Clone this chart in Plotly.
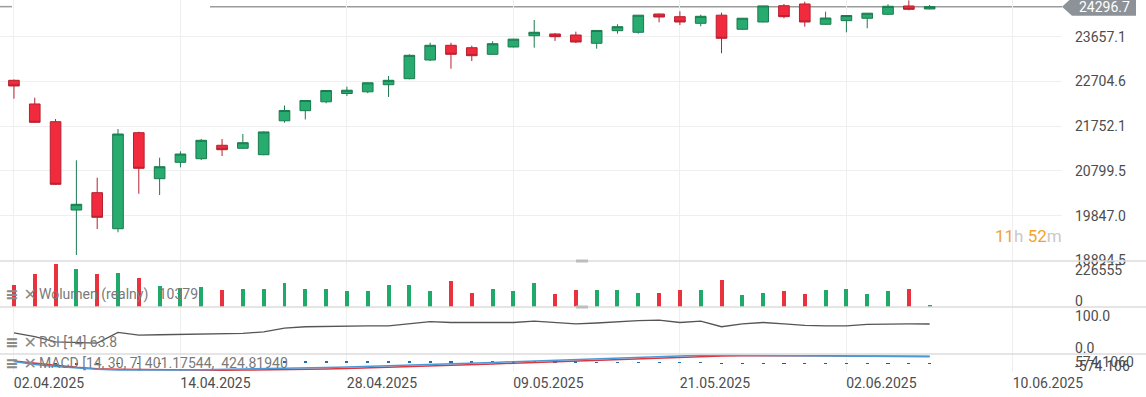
import plotly.graph_objects as go
from plotly.subplots import make_subplots

# ---------------- data ----------------
DAYS = ["02.04", "03.04", "04.04", "07.04", "08.04", "09.04", "10.04", "11.04", "14.04", "15.04",
        "16.04", "17.04", "22.04", "23.04", "24.04", "25.04", "28.04", "29.04", "30.04", "02.05",
        "05.05", "06.05", "07.05", "08.05", "09.05", "12.05", "13.05", "14.05", "15.05", "16.05",
        "19.05", "20.05", "21.05", "22.05", "23.05", "26.05", "27.05", "28.05", "29.05", "30.05",
        "02.06", "03.06", "04.06", "05.06", "06.06"]

OPEN = [22729, 22225, 21848, 19968, 20337, 19570, 21614, 20635, 20984, 21060,
        21346, 21282, 21145, 21867, 22082, 22271, 22448, 22484, 22635, 22763,
        23161, 23474, 23423, 23282, 23438, 23678, 23715, 23693, 23517, 23785,
        23751, 24140, 24083, 23942, 24115, 23815, 23970, 24317, 24353, 23921,
        23998, 24049, 24134, 24311, 24247]
HIGH = [22745, 22359, 21905, 21026, 20656, 21692, 21635, 21082, 21218, 21480,
        21480, 21586, 21640, 22193, 22310, 22523, 22593, 22680, 22820, 23282,
        23529, 23529, 23466, 23559, 23610, 24013, 23736, 23764, 23795, 23921,
        24119, 24147, 24198, 24125, 24168, 24055, 24317, 24353, 24402, 24189,
        24113, 24162, 24347, 24430, 24332]
LOW = [22337, 21820, 20500, 19011, 19564, 19494, 20315, 20288, 20877, 21033,
       21118, 21270, 21135, 21827, 21895, 22240, 22395, 22454, 22374, 22750,
       23140, 22976, 23140, 23270, 23430, 23423, 23566, 23523, 23402, 23721,
       23721, 23964, 23906, 23878, 23304, 23805, 23960, 24049, 23870, 23910,
       23751, 23836, 24124, 24219, 24240]
CLOSE = [22608, 21835, 20515, 20090, 19813, 21586, 20856, 20890, 21160, 21452,
         21252, 21401, 21630, 22086, 22299, 22512, 22518, 22676, 22729, 23261,
         23474, 23282, 23253, 23508, 23605, 23751, 23657, 23544, 23790, 23870,
         24115, 24076, 23970, 24091, 23623, 24050, 24312, 24083, 23970, 24055,
         24108, 24157, 24304, 24240, 24296.7]

VOLUME = [108000, 162000, 212000, 187000, 162000, 169000, 144000, 105000, 95000, 100000,
          84000, 89000, 89000, 120000, 89000, 89000, 79000, 79000, 108000, 108000,
          79000, 128000, 70000, 89000, 79000, 120000, 64000, 84000, 84000, 84000,
          70000, 70000, 84000, 84000, 133000, 59000, 70000, 79000, 64000, 84000,
          89000, 64000, 79000, 89000, 10379]

RSI = [45, 37, 26, 24, 23, 46, 40, 41, 42, 43,
       43, 44, 47, 55, 58, 59, 60, 60, 60, 65,
       69, 67, 67, 68, 67, 70, 67, 64, 66, 69,
       71, 72, 67, 70, 58, 64, 67, 64, 61, 60,
       60, 63, 64, 64, 63.8]

MACD = [96, -96, -223, -319, -400, -440, -450, -450, -440, -425,
        -410, -395, -375, -350, -320, -290, -255, -220, -180, -135,
        -90, -45, -5, 35, 80, 130, 180, 230, 280, 330,
        380, 430, 470, 500, 500, 490, 495, 490, 475, 455,
        440, 428, 420, 410, 401.17544]
SIGNAL = [128, -30, -150, -270, -360, -400, -420, -440, -450, -455,
          -455, -450, -440, -425, -405, -380, -350, -315, -280, -240,
          -195, -150, -105, -60, -15, 30, 80, 130, 180, 230,
          280, 325, 370, 410, 440, 455, 465, 470, 470, 462,
          452, 442, 435, 429, 424.81940]
HIST = [0, -40, -150, -150, -150, -40, -30, -10, 0, 0,
        0, 0, 0, 115, 115, 115, 115, 115, 115, 115,
        115, 115, 115, 115, 115, 110, 110, 110, 50, 50,
        50, 50, 50, 50, -20, -20, -20, -20, -20, -20,
        -20, -20, -20, -20, -20]

TICK_IDX = [0, 8, 16, 24, 32, 40, 48]
TICK_TEXT = ["02.04.2025", "14.04.2025", "28.04.2025", "09.05.2025",
             "21.05.2025", "02.06.2025", "10.06.2025"]

PRICE_TICKS = [18894.5, 19847.0, 20799.5, 21752.1, 22704.6, 23657.1]
PRICE_RANGE = [18883, 24438]
VOL_MAX = 226555
MACD_MAX = 574.106

# ---------------- styling ----------------
FONT = "Roboto"
GREEN, GREEN_LINE = "#27ab6f", "#1b7a4f"
RED, RED_LINE = "#f12b3d", "#b5202f"
VGREEN, VRED = "#1faa69", "#e8333f"
GRID = "#efefef"
SEP = "#dcdcdc"
TXT = "#4d4d4d"
LEG = "#7a7a7a"

W, H = 1146, 397
ML, MR, MT, MB = 0, 84, 0, 25
PW = W - ML - MR
PH = H - MT - MB
ROWS_PX = [261, 46, 47, 18]

n = len(OPEN)
x = list(range(n))
up = [c >= o for o, c in zip(OPEN, CLOSE)]

fig = make_subplots(rows=4, cols=1, shared_xaxes=True, vertical_spacing=0,
                    row_heights=ROWS_PX)

fig.add_trace(go.Candlestick(
    x=x, open=OPEN, high=HIGH, low=LOW, close=CLOSE,
    increasing=dict(fillcolor=GREEN, line=dict(color=GREEN_LINE, width=1)),
    decreasing=dict(fillcolor=RED, line=dict(color=RED_LINE, width=1)),
    whiskerwidth=0, showlegend=False, hoverinfo="skip"), row=1, col=1)

fig.add_trace(go.Bar(
    x=x, y=VOLUME, width=0.19,
    marker=dict(color=[VGREEN if u else VRED for u in up], line=dict(width=0)),
    showlegend=False, hoverinfo="skip"), row=2, col=1)

fig.add_trace(go.Scatter(
    x=x, y=RSI, mode="lines", line=dict(color="#555555", width=1.3),
    showlegend=False, hoverinfo="skip"), row=3, col=1)

fig.add_trace(go.Bar(
    x=x, y=HIST, width=0.15,
    marker=dict(color=["#1f6fb2" if v >= 0 else "#b3262f" for v in HIST], line=dict(width=0)),
    showlegend=False, hoverinfo="skip"), row=4, col=1)
fig.add_trace(go.Scatter(
    x=x, y=SIGNAL, mode="lines", line=dict(color="#e0353d", width=1.5),
    showlegend=False, hoverinfo="skip"), row=4, col=1)
fig.add_trace(go.Scatter(
    x=x, y=MACD, mode="lines", line=dict(color="#4a9ad8", width=1.5),
    showlegend=False, hoverinfo="skip"), row=4, col=1)

# x axes
x_range = [-0.67, 50.36]
fig.update_xaxes(range=x_range, tickvals=TICK_IDX, ticktext=TICK_TEXT,
                 showgrid=True, gridcolor=GRID, gridwidth=1, zeroline=False,
                 showline=False, ticks="", showticklabels=False,
                 rangeslider=dict(visible=False), fixedrange=True)
fig.update_xaxes(showticklabels=True, tickfont=dict(family=FONT, size=14, color=TXT),
                 ticklabelshift=35, ticklabelstandoff=1, row=4, col=1)

# y axes
common_y = dict(side="right", zeroline=False, showline=False, ticks="",
                tickfont=dict(family=FONT, size=14, color=TXT),
                ticklabelstandoff=12, fixedrange=True)
fig.update_yaxes(range=PRICE_RANGE, tickvals=PRICE_TICKS,
                 ticktext=[f"{v:.1f}" for v in PRICE_TICKS],
                 showgrid=True, gridcolor=GRID, row=1, col=1, **common_y)

v_px = ROWS_PX[1]
fig.update_yaxes(range=[0, VOL_MAX],
                 tickvals=[VOL_MAX * (1 - 9 / v_px), VOL_MAX * (6 / v_px)],
                 ticktext=[str(VOL_MAX), "0"], showgrid=False, row=2, col=1, **common_y)
r_px = ROWS_PX[2]
fig.update_yaxes(range=[0, 100],
                 tickvals=[100 * (1 - 9.5 / r_px), 100 * (6 / r_px)],
                 ticktext=["100.0", "0.0"], showgrid=False, row=3, col=1, **common_y)
m_px = ROWS_PX[3]
fig.update_yaxes(range=[-MACD_MAX, MACD_MAX],
                 tickvals=[MACD_MAX * (1 / (m_px / 2)), -MACD_MAX * (3.5 / (m_px / 2))],
                 ticktext=[f"{MACD_MAX:.4f}", f"-{MACD_MAX:.3f}"],
                 showgrid=False, row=4, col=1, **common_y)

shapes = []
# panel separators across full width
dom = [fig.layout.yaxis.domain, fig.layout.yaxis2.domain, fig.layout.yaxis3.domain]
for d in dom:
    shapes.append(dict(type="line", xref="paper", yref="paper", x0=0, x1=W / PW,
                       y0=d[0], y1=d[0], line=dict(color=SEP, width=1.5), layer="above"))
# panel handles
for d in dom[:2]:
    shapes.append(dict(type="line", xref="paper", yref="paper", x0=576 / PW, x1=588 / PW,
                       y0=d[0], y1=d[0], line=dict(color="#bdbdbd", width=3), layer="above"))

LAST = CLOSE[-1]
# last price line
shapes.append(dict(type="line", xref="paper", yref="y", x0=210 / PW, x1=1.0, y0=LAST, y1=LAST,
                   line=dict(color="#9c9c9c", width=1.5), layer="below"))
shapes.append(dict(type="line", xref="paper", yref="y", x0=0, x1=12 / PW, y0=LAST, y1=LAST,
                   line=dict(color="#9c9c9c", width=1.5), layer="below"))
# last price label box (arrow shaped)
ppx = (PRICE_RANGE[1] - PRICE_RANGE[0]) / ROWS_PX[0]
hh = 9 * ppx
xt, xs, xe = 1.0, 1 + 10 / PW, 1 + 74 / PW
shapes.append(dict(type="path", xref="paper", yref="y",
                   path=f"M {xt},{LAST} L {xs},{LAST + hh} L {xe},{LAST + hh} "
                        f"L {xe},{LAST - hh} L {xs},{LAST - hh} Z",
                   fillcolor="#8c9298", line=dict(width=0), layer="above"))

annotations = [
    dict(xref="paper", yref="y", x=1 + 42 / PW, y=LAST, text=f"{LAST:.1f}",
         showarrow=False, xanchor="center", yanchor="middle",
         font=dict(family=FONT, size=14, color="#ffffff")),
    dict(xref="paper", yref="paper", x=1064 / PW, y=(PH - 236) / PH,
         text="<span style='color:#f2a32c'>11</span><span style='color:#c9c9c9'>h</span> "
              "<span style='color:#f2a32c'>52</span><span style='color:#c9c9c9'>m</span>",
         showarrow=False, xanchor="right", yanchor="middle",
         font=dict(family=FONT, size=17, color="#f2a32c")),
]

legends = [
    (294, "Wolumen (realny)\u00a0\u00a0\u00a0" + f"{VOLUME[-1]}"),
    (342, f"RSI [14] {RSI[-1]}"),
    (363, f"MACD [14, 30, 7] {MACD[-1]:.5f},\u00a0\u00a0{SIGNAL[-1]:.5f}"),
]
for ypx, t in legends:
    yp = (PH - ypx) / PH
    annotations.append(dict(xref="paper", yref="paper", x=3 / PW, y=yp,
                            text="<b>≡</b>\u00a0✕",
                            showarrow=False, xanchor="left", yanchor="middle",
                            font=dict(family="DejaVu Sans", size=16, color="#8a8a8a")))
    annotations.append(dict(xref="paper", yref="paper", x=37 / PW, y=yp, text=t,
                            showarrow=False, xanchor="left", yanchor="middle",
                            font=dict(family=FONT, size=14, color=LEG)))

fig.update_layout(
    width=W, height=H,
    margin=dict(l=ML, r=MR, t=MT, b=MB),
    paper_bgcolor="white", plot_bgcolor="white",
    boxgap=0.27, bargap=0,
    showlegend=False,
    shapes=shapes, annotations=annotations,
    font=dict(family=FONT),
    hovermode=False,
)

fig.write_html("out.html", config={"displayModeBar": False},
               post_script="document.body.style.margin='0';document.body.style.overflow='hidden';")
